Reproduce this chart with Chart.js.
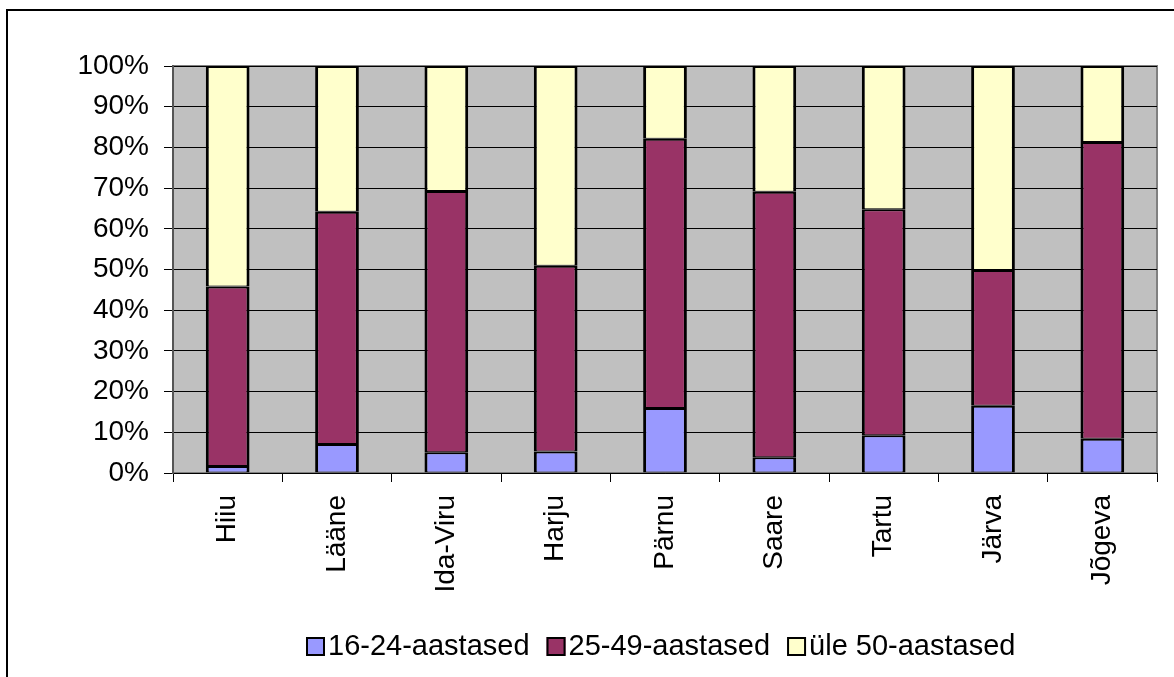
<!DOCTYPE html>
<html>
<head>
<meta charset="utf-8">
<script src="https://cdn.jsdelivr.net/npm/chart.js@4.4.0/dist/chart.umd.min.js"></script>
<style>
  html, body { margin: 0; padding: 0; background: #fff; overflow: hidden; width: 1174px; height: 677px; }
  #frame { position: absolute; left: 6px; top: 9px; width: 1300px; height: 800px; border: 2px solid #000; }
  #c { position: absolute; left: 0; top: 0; }
</style>
</head>
<body>
<div id="frame"></div>
<canvas id="c" width="1174" height="677"></canvas>
<script>
// ---- data ----
const categories = ["Hiiu", "Lääne", "Ida-Viru", "Harju", "Pärnu", "Saare", "Tartu", "Järva", "Jõgeva"];
const seriesNames = ["16-24-aastased", "25-49-aastased", "üle 50-aastased"];
const age16to24 = [1.7, 7.1, 5.1, 5.3, 16.0, 3.9, 9.3, 16.5, 8.4];
const age25to49 = [44.1, 57.1, 64.2, 45.6, 66.1, 65.2, 55.5, 33.4, 72.9];
const age50plus = [54.2, 35.8, 30.7, 49.1, 17.9, 30.9, 35.2, 50.1, 18.7];
const yTicks = [0, 10, 20, 30, 40, 50, 60, 70, 80, 90, 100];

const FONT = "'Liberation Sans', Arial, Helvetica, sans-serif";
const colors = ["#9999FF", "#993366", "#FFFFCC"];
const seriesValues = [age16to24, age25to49, age50plus];

const plotBg = {
  id: 'plotBg',
  beforeDraw(chart) {
    const {ctx, chartArea: a} = chart;
    ctx.save();
    ctx.fillStyle = '#C0C0C0';
    ctx.fillRect(a.left, a.top, a.right - a.left, a.bottom - a.top);
    ctx.strokeStyle = '#808080';
    ctx.lineWidth = 2;
    ctx.strokeRect(a.left, a.top, a.right - a.left, a.bottom - a.top);
    ctx.restore();
  }
};

// Legend drawn from the datasets (label + colour), Excel style: box tight to its text
const excelLegend = {
  id: 'excelLegend',
  afterDraw(chart) {
    const {ctx, chartArea: a} = chart;
    const fontSize = 29, box = 19, gapBoxText = 3, gapItems = 17;
    ctx.save();
    ctx.font = fontSize + 'px ' + FONT;
    const items = chart.data.datasets.map(ds => ({
      text: ds.label, fill: ds.backgroundColor, w: ctx.measureText(ds.label).width
    }));
    const total = items.reduce((s, it) => s + box + gapBoxText + it.w, 0) + gapItems * (items.length - 1);
    let x = Math.round((a.left + a.right) / 2 - 4 - total / 2);
    const cy = 646;
    ctx.textBaseline = 'middle';
    ctx.textAlign = 'left';
    items.forEach(it => {
      const top = Math.round(cy - box / 2);
      ctx.fillStyle = it.fill;
      ctx.fillRect(x, top, box, box);
      ctx.strokeStyle = '#000';
      ctx.lineWidth = 2;
      ctx.strokeRect(x + 1, top + 1, box - 2, box - 2);
      ctx.fillStyle = '#000';
      ctx.fillText(it.text, x + box + gapBoxText, cy + 1);
      x += box + gapBoxText + it.w + gapItems;
    });
    ctx.restore();
  }
};

new Chart(document.getElementById('c'), {
  type: 'bar',
  data: {
    labels: categories,
    datasets: seriesNames.map((name, i) => ({
      label: name,
      data: seriesValues[i],
      backgroundColor: colors[i],
      borderColor: '#000',
      borderWidth: { top: 2, bottom: 1, left: 3, right: 3 },
      borderSkipped: false,
      inflateAmount: 0,
      barPercentage: 0.4,
      categoryPercentage: 1.0
    }))
  },
  options: {
    responsive: false,
    devicePixelRatio: 1,
    animation: false,
    layout: { padding: { top: 66, right: 17, left: 0, bottom: 51 } },
    plugins: {
      tooltip: { enabled: false },
      legend: { display: false }
    },
    scales: {
      x: {
        stacked: true,
        offset: true,
        grid: { display: true, drawOnChartArea: false, drawTicks: true, tickLength: 9, color: '#000', offset: true },
        border: { display: true, color: '#000', width: 1 },
        ticks: { color: '#000', font: { family: FONT, size: 28 }, maxRotation: 90, minRotation: 90, padding: 13, autoSkip: false },
        afterFit(scale) { scale.height = 153; }
      },
      y: {
        stacked: true,
        min: 0,
        max: 100,
        afterBuildTicks(scale) { scale.ticks = yTicks.map(v => ({ value: v })); },
        grid: { color: '#000', lineWidth: 1, tickLength: 9, drawTicks: true },
        border: { display: true, color: '#555', width: 2 },
        ticks: { color: '#000', font: { family: FONT, size: 28 }, padding: 15, callback: v => v + '%' },
        afterFit(scale) { scale.width = 173; }
      }
    }
  },
  plugins: [plotBg, excelLegend]
});
</script>
</body>
</html>
